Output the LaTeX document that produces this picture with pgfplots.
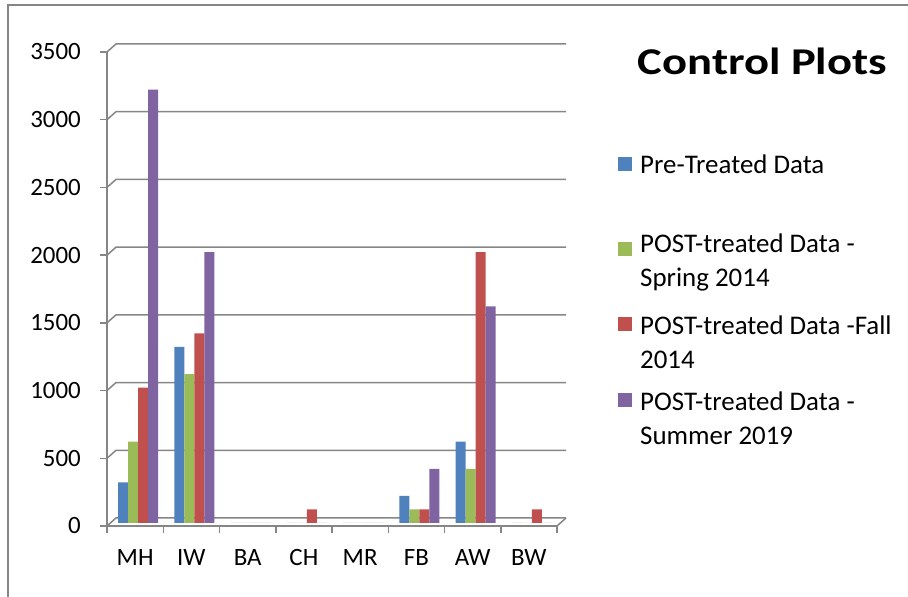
\documentclass[border=0pt]{standalone}
\usepackage{fontspec}
\setmainfont{Carlito}
\newfontfamily\titlefont[FakeStretch=1.23]{Carlito Bold}
\usepackage{pgfplots}
\pgfplotsset{compat=1.18}
\definecolor{cblue}{RGB}{79,129,189}
\definecolor{cgreen}{RGB}{155,187,89}
\definecolor{cred}{RGB}{192,80,77}
\definecolor{cpurple}{RGB}{128,100,162}
\definecolor{gridgray}{RGB}{134,134,134}
\begin{document}
\begin{tikzpicture}
\useasboundingbox (0,0) rectangle (908bp,597bp);
\draw[gridgray, line width=1.5bp] (8bp,0) -- (8bp,592bp) -- (908bp,592bp);
\begin{axis}[
  at={(107bp,71bp)}, anchor=south west,
  scale only axis, width=450bp, height=474bp,
  ymin=0, ymax=3500, xmin=-0.5, xmax=7.5,
  ytick={0,500,...,3500},
  xtick={0,...,7}, xticklabels={MH,IW,BA,CH,MR,FB,AW,BW},
  minor xtick={-0.5,0.5,...,7.5},
  axis lines*=left,
  axis line style={gridgray, line width=1.5bp},
  tick align=outside,
  major tick length=7bp, minor tick length=7bp,
  major x tick style={draw=none},
  minor x tick style={gridgray, line width=1.5bp},
  ytick style={gridgray, line width=1.5bp},
  ybar=0pt, bar width=10bp,
  clip=false,
  tick label style={font=\fontsize{25}{30}\selectfont},
  /pgf/number format/assume math mode=true,
  /pgf/number format/1000 sep={},
  yticklabel style={anchor=east, inner sep=0pt, xshift=-19bp},
  xticklabel style={anchor=base, inner sep=0pt, yshift=-32.5bp},
  every axis plot/.append style={draw=none, xshift=3bp, yshift=3bp},
]
\pgfplotsinvokeforeach{0,500,1000,1500,2000,2500,3000,3500}{
  \draw[gridgray, line width=1.5bp] (axis cs:-0.5,#1) -- ([xshift=9bp,yshift=8bp]axis cs:-0.5,#1) -- ([xshift=9bp,yshift=8bp]axis cs:7.5,#1);
}
\draw[gridgray, line width=1.5bp] (axis cs:7.5,0) -- ([xshift=9bp,yshift=8bp]axis cs:7.5,0);
\addplot[fill=cblue] coordinates {(0,300) (1,1300) (2,0) (3,0) (4,0) (5,200) (6,600) (7,0)};
\addplot[fill=cgreen] coordinates {(0,600) (1,1100) (2,0) (3,0) (4,0) (5,100) (6,400) (7,0)};
\addplot[fill=cred] coordinates {(0,1000) (1,1400) (2,0) (3,100) (4,0) (5,100) (6,2000) (7,100)};
\addplot[fill=cpurple] coordinates {(0,3200) (1,2000) (2,0) (3,0) (4,0) (5,400) (6,1600) (7,0)};
\end{axis}
\node[anchor=base, inner sep=0pt, font=\titlefont\fontsize{38}{44}\selectfont] at (762.5bp,522bp) {Control Plots};
\fill[cblue] (618bp,425.7bp) rectangle +(14bp,14bp);
\fill[cgreen] (618bp,340.7bp) rectangle +(14bp,14bp);
\fill[cred] (618bp,266bp) rectangle +(14bp,14bp);
\fill[cpurple] (618bp,190bp) rectangle +(14bp,14bp);
\begin{scope}[every node/.style={anchor=base west, inner sep=0pt, font=\fontsize{27}{34}\selectfont}]
\node at (640bp,423.7bp) {Pre-Treated Data};
\node at (640bp,344bp) {POST-treated Data -};
\node at (640bp,310bp) {Spring 2014};
\node at (640bp,262.4bp) {POST-treated Data -Fall};
\node at (640bp,228.4bp) {2014};
\node at (640bp,186bp) {POST-treated Data -};
\node at (640bp,152bp) {Summer 2019};
\end{scope}
\end{tikzpicture}
\end{document}
